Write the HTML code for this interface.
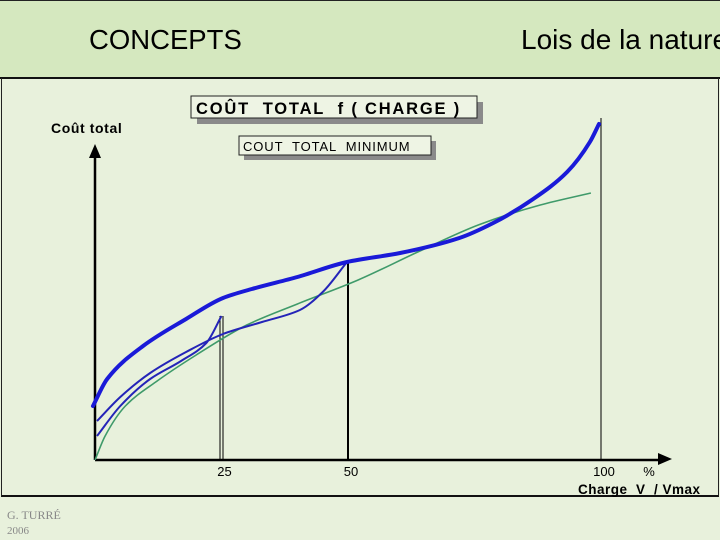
<!DOCTYPE html>
<html><head><meta charset="utf-8"><style>
html,body{margin:0;padding:0;}
body{width:720px;height:540px;overflow:hidden;background:#e8f1dc;font-family:"Liberation Sans",sans-serif;position:relative;}
.abs{position:absolute;}
svg text{white-space:pre;}
</style></head><body>
<div class="abs" style="left:0;top:0;width:720px;height:76px;background:#d5e8bf;border-top:1px solid #222;border-bottom:2px solid #111;"></div>
<div class="abs" style="left:89px;top:24px;font-size:27.5px;color:#000;">CONCEPTS</div>
<div class="abs" style="left:521px;top:24px;font-size:28px;color:#000;white-space:nowrap;">Lois de la nature</div>
<div class="abs" style="left:1px;top:78px;width:716px;height:417px;border-left:1px solid #222;border-right:1px solid #222;border-bottom:2px solid #111;"></div>
<div class="abs" style="left:7px;top:508px;font-family:'Liberation Serif',serif;font-size:12px;color:#888;">G. TURRÉ</div>
<div class="abs" style="left:7px;top:525px;font-family:'Liberation Serif',serif;font-size:11px;color:#888;">2006</div>

<svg class="abs" style="left:0;top:0" width="720" height="540">
<g id="boxes">
<rect x="197" y="102" width="286" height="22" fill="#8a8a8a"/>
<rect x="191" y="96" width="286" height="22" fill="#eef4e4" stroke="#222"/>
<text x="196" y="114" font-size="16.5" font-weight="bold" font-family="Liberation Sans" letter-spacing="1.8">COÛT  TOTAL  f ( CHARGE )</text>
<rect x="244" y="141" width="192" height="19" fill="#8a8a8a"/>
<rect x="239" y="136" width="192" height="19" fill="#eef4e4" stroke="#222"/>
<text x="243" y="151" font-size="13" font-family="Liberation Sans" letter-spacing="0.9">COUT  TOTAL  MINIMUM</text>
</g>
<g id="axes"></g>
<g id="series"></g>
</svg>
<script>
const ticks=[25,50,100];
const tickLabels=["25","50","100"];
const greenX=[0,2,6,12,20,30,40,52,64,76,88,98];
const greenY=[0,8,18,26,35,45,52,60,69.5,78.5,85,89];
const mainX=[-0.4,2.4,9.5,18,25.3,31,40,49.8,60.3,72,78.7,86.6,93.3,97.8,99.6];
const mainY=[18,27,38,47,54,57,61,66,69,74,79,87,96,106,112];
const c50X=[0.4,5,10.9,18,25.3,33,40.5,45,49.8];
const c50Y=[13,21,29,36,42,46,50,56,66];
const c25X=[0.4,5,10.9,17,22,25];
const c25Y=[8,18,27,33,39,48];
const X=v=>95+v*5.06;
const Y=v=>460-v*3;
const NS="http://www.w3.org/2000/svg";
const ax=document.getElementById('axes'), se=document.getElementById('series');
function mk(tag,attrs,parent){const e=document.createElementNS(NS,tag);for(const k in attrs)e.setAttribute(k,attrs[k]);parent.appendChild(e);return e;}
function smooth(xs,ys){
  const p=xs.map((x,i)=>[X(x),Y(ys[i])]);const n=p.length;
  const dx=[],s=[];for(let i=0;i<n-1;i++){dx.push(p[i+1][0]-p[i][0]);s.push((p[i+1][1]-p[i][1])/dx[i]);}
  const m=[s[0]];for(let i=1;i<n-1;i++){m.push(s[i-1]*s[i]<=0?0:3*(dx[i-1]+dx[i])/((2*dx[i]+dx[i-1])/s[i-1]+(dx[i]+2*dx[i-1])/s[i]));}m.push(s[n-2]);
  let d="M"+p[0][0]+","+p[0][1];
  for(let i=0;i<n-1;i++){const h=dx[i]/3;d+=` C${p[i][0]+h},${p[i][1]+m[i]*h} ${p[i+1][0]-h},${p[i+1][1]-m[i+1]*h} ${p[i+1][0]},${p[i+1][1]}`;}
  return d;}
let e;
e=mk('line',{x1:X(0),y1:Y(0),x2:X(0),y2:157,stroke:'#000','stroke-width':2.5},ax);


e=mk('polygon',{points:`${X(0)-6},158 ${X(0)},144 ${X(0)+6},158`,fill:'#000'},ax);


e=mk('line',{x1:X(0),y1:Y(0),x2:662,y2:Y(0),stroke:'#000','stroke-width':2.5},ax);


e=mk('polygon',{points:`658,${Y(0)-7} 672,${Y(0)-1} 658,${Y(0)+5}`,fill:'#000'},ax);


e=mk('text',{x:51,y:133,'font-size':14,'font-weight':'bold','letter-spacing':0.6,'font-family':'Liberation Sans'},ax);e.textContent='Coût total';


ticks.forEach((t,i)=>{const l=mk('text',{x:X(t)+3,y:476,'font-size':13,'text-anchor':'middle','font-family':'Liberation Sans'},ax);l.textContent=tickLabels[i];

});
e=mk('text',{x:649,y:476,'font-size':13,'text-anchor':'middle','font-family':'Liberation Sans'},ax);e.textContent='%';


e=mk('text',{x:578,y:494,'font-size':13.5,'font-weight':'bold','letter-spacing':0.5,'font-family':'Liberation Sans'},ax);e.textContent='Charge  V  / Vmax';


e=mk('line',{x1:X(25)-1.5,y1:Y(c25Y[c25Y.length-1]),x2:X(25)-1.5,y2:Y(0),stroke:'#000','stroke-width':1},se);


e=mk('line',{x1:X(25)+1.5,y1:Y(c25Y[c25Y.length-1]),x2:X(25)+1.5,y2:Y(0),stroke:'#000','stroke-width':1},se);


e=mk('line',{x1:X(50),y1:Y(c50Y[c50Y.length-1])-2,x2:X(50),y2:Y(0),stroke:'#000','stroke-width':2},se);


e=mk('line',{x1:X(100),y1:118,x2:X(100),y2:Y(0),stroke:'#000','stroke-width':1},se);


e=mk('path',{d:smooth(greenX,greenY),fill:'none',stroke:'#3f9a6a','stroke-width':1.6},se);


e=mk('path',{d:smooth(c25X,c25Y),fill:'none',stroke:'#2424b8','stroke-width':2},se);


e=mk('path',{d:smooth(c50X,c50Y),fill:'none',stroke:'#2424b8','stroke-width':2},se);


e=mk('path',{d:smooth(mainX,mainY),fill:'none',stroke:'#1a1ad8','stroke-width':4,'stroke-linecap':'round'},se);


</script>
</body></html>
